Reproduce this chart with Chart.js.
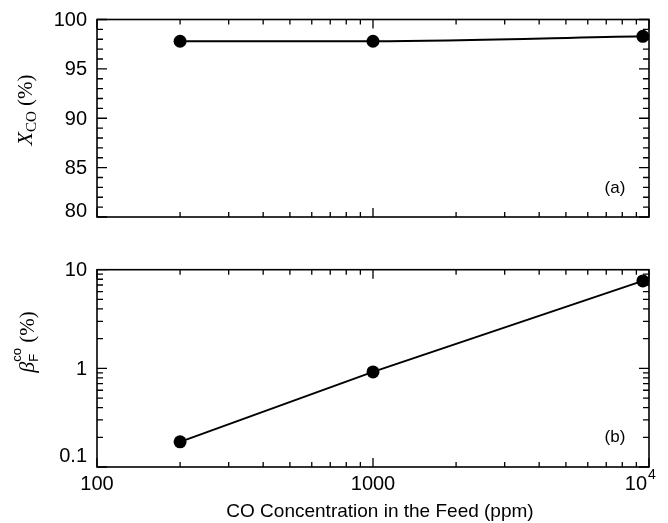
<!DOCTYPE html>
<html>
<head>
<meta charset="utf-8">
<script src="https://cdn.jsdelivr.net/npm/chart.js@4.4.0/dist/chart.umd.min.js"></script>
<style>
    html, body { margin: 0; padding: 0; background: #fff; }
    #wrap { position: relative; width: 668px; height: 523px; }
    #wrap canvas { position: absolute; left: 0; }
</style>
</head>
<body>
<div id="wrap">
    <canvas id="topChart" width="668" height="243" style="top:0"></canvas>
    <canvas id="botChart" width="668" height="280" style="top:243px"></canvas>
</div>
<script>
// data
const feedPpm = [200, 1000, 9500];
const conversionPct = [97.8, 97.8, 98.3];
const betaPct = [0.18, 0.92, 7.7];

// tick labels
const xTickValues = [100, 1000, 10000];
const xTickLabels = ['100', '1000', '10'];
const topYTicks = [80, 85, 90, 95, 100];
const botYTicks = [0.1, 1, 10];
const botYLabels = ['0.1', '1', '10'];

const SANS = '"Liberation Sans", Arial, sans-serif';
const SERIF = '"Liberation Serif", "Times New Roman", serif';
const TICK_FONT = '20px ' + SANS;

// minor/major tick marks for the framed boxes
const xMarks = [];
[100, 1000].forEach(d => { for (let k = 1; k <= 10; k++) xMarks.push([k * d, k === 1 || k === 10]); });
const topYMarks = [];
for (let v = 80; v <= 100; v++) topYMarks.push([v, v % 5 === 0]);
const botYMarks = [];
[0.1, 1].forEach(d => { for (let k = 1; k <= 10; k++) botYMarks.push([k * d, k === 1 || k === 10]); });

function seg(ctx, x1, y1, x2, y2) { ctx.moveTo(x1, y1); ctx.lineTo(x2, y2); }

function drawFrame(chart, yMarks) {
    const { ctx, chartArea: a, scales } = chart;
    ctx.save();
    ctx.strokeStyle = '#000';
    ctx.lineWidth = 1.6;
    ctx.strokeRect(a.left, a.top, a.right - a.left, a.bottom - a.top);
    ctx.lineWidth = 1.3;
    ctx.beginPath();
    xMarks.forEach(([v, major]) => {
        const x = scales.x.getPixelForValue(v), l = major ? 9 : 5;
        seg(ctx, x, a.bottom, x, a.bottom - l);
        seg(ctx, x, a.top, x, a.top + l);
    });
    yMarks.forEach(([v, major]) => {
        const y = scales.y.getPixelForValue(v), l = major ? 10 : 6;
        seg(ctx, a.left, y, a.left + l, y);
        seg(ctx, a.right, y, a.right - l, y);
    });
    ctx.stroke();
    ctx.restore();
}

function drawYLabels(chart, values, labels, lastShift) {
    const { ctx, scales } = chart;
    ctx.save();
    ctx.font = TICK_FONT;
    ctx.fillStyle = '#000';
    ctx.textAlign = 'right';
    ctx.textBaseline = 'middle';
    values.forEach((v, i) => {
        let y = scales.y.getPixelForValue(v) + 1;
        if (i === 0) y -= lastShift;
        ctx.fillText(labels[i], 87, y);
    });
    ctx.restore();
}

// rotated title built from pieces: {t, font, dy, stack}
// a "stack" piece sits over the previous one; the wider of the two sets the advance
function drawRotated(ctx, cx, cy, parts) {
    ctx.save();
    ctx.translate(cx, cy);
    ctx.rotate(-Math.PI / 2);
    ctx.fillStyle = '#000';
    ctx.textBaseline = 'alphabetic';
    parts.forEach(p => { ctx.font = p.font; p.w = ctx.measureText(p.t).width; });
    const adv = parts.map((p, i) => {
        if (p.stack) return 0;
        const next = parts[i + 1];
        return next && next.stack ? Math.max(p.w, next.w) : p.w;
    });
    const total = adv.reduce((s, w) => s + w, 0);
    let x = -total / 2, prevX = x;
    parts.forEach((p, i) => {
        ctx.font = p.font;
        if (p.stack) { ctx.fillText(p.t, prevX, p.dy); return; }
        ctx.fillText(p.t, x, p.dy);
        prevX = x;
        x += adv[i];
    });
    ctx.restore();
}

function panelTag(ctx, text, y) {
    ctx.save();
    ctx.fillStyle = '#000';
    ctx.font = '17px ' + SANS;
    ctx.textAlign = 'center';
    ctx.textBaseline = 'middle';
    ctx.fillText(text, 615, y);
    ctx.restore();
}

const topDecor = {
    id: 'topDecor',
    beforeDatasetsDraw(chart) { drawFrame(chart, topYMarks); },
    afterDraw(chart) {
        drawYLabels(chart, topYTicks, topYTicks.map(String), 7);
        drawRotated(chart.ctx, 25, 110, [
            { t: 'X', font: 'italic 22px ' + SERIF, dy: 7 },
            { t: 'CO', font: '15px ' + SERIF, dy: 11 },
            { t: ' (%)', font: '21px ' + SERIF, dy: 7 }
        ]);
        panelTag(chart.ctx, '(a)', 188);
    }
};

const botDecor = {
    id: 'botDecor',
    beforeDatasetsDraw(chart) { drawFrame(chart, botYMarks); },
    afterDraw(chart) {
        const { ctx, scales, chartArea: a } = chart;
        drawYLabels(chart, botYTicks, botYLabels, 12);
        drawRotated(ctx, 27, 99, [
            { t: 'β', font: 'italic 22px ' + SERIF, dy: 7 },
            { t: 'F', font: '13px ' + SANS, dy: 11 },
            { t: 'co', font: '13px ' + SANS, dy: -6, stack: true },
            { t: ' (%)', font: '21px ' + SERIF, dy: 7 }
        ]);
        panelTag(ctx, '(b)', 194);
        ctx.save();
        ctx.fillStyle = '#000';
        ctx.textBaseline = 'middle';
        xTickValues.forEach((v, i) => {
            const x = scales.x.getPixelForValue(v);
            ctx.font = TICK_FONT;
            if (i === xTickValues.length - 1) {
                ctx.textAlign = 'right';
                ctx.fillText(xTickLabels[i], x - 2, 241);
                ctx.textAlign = 'left';
                ctx.font = '14px ' + SANS;
                ctx.fillText('4', x - 1, 232);
            } else {
                ctx.textAlign = 'center';
                ctx.fillText(xTickLabels[i], x, 241);
            }
        });
        ctx.font = '19px ' + SANS;
        ctx.textAlign = 'center';
        ctx.fillText('CO Concentration in the Feed (ppm)', (a.left + a.right) / 2 + 7, 269);
        ctx.restore();
    }
};

function baseOptions(yScale, padTop, padBottom) {
    return {
        responsive: false,
        animation: false,
        layout: { padding: { left: 0, right: 19, top: padTop, bottom: padBottom } },
        plugins: { legend: { display: false }, tooltip: { enabled: false } },
        scales: {
            x: { type: 'logarithmic', min: 100, max: 10000, display: false },
            y: Object.assign({
                ticks: { display: false },
                grid: { display: false, drawTicks: false },
                border: { display: false },
                afterFit(s) { s.width = 97; }
            }, yScale)
        }
    };
}

function series(ys) {
    return feedPpm.map((x, i) => ({ x: x, y: ys[i] }));
}

const markStyle = {
    borderColor: '#000',
    borderWidth: 2,
    pointRadius: 6.5,
    pointBackgroundColor: '#000',
    pointBorderWidth: 0,
    clip: false
};

new Chart(document.getElementById('topChart'), {
    type: 'line',
    data: { datasets: [Object.assign({ data: series(conversionPct), cubicInterpolationMode: 'monotone' }, markStyle)] },
    options: baseOptions({ type: 'linear', min: 80, max: 100 }, 19.5, 26),
    plugins: [topDecor]
});

new Chart(document.getElementById('botChart'), {
    type: 'line',
    data: { datasets: [Object.assign({ data: series(betaPct), tension: 0 }, markStyle)] },
    options: baseOptions({ type: 'logarithmic', min: 0.1, max: 10 }, 26.7, 56),
    plugins: [botDecor]
});
</script>
</body>
</html>
